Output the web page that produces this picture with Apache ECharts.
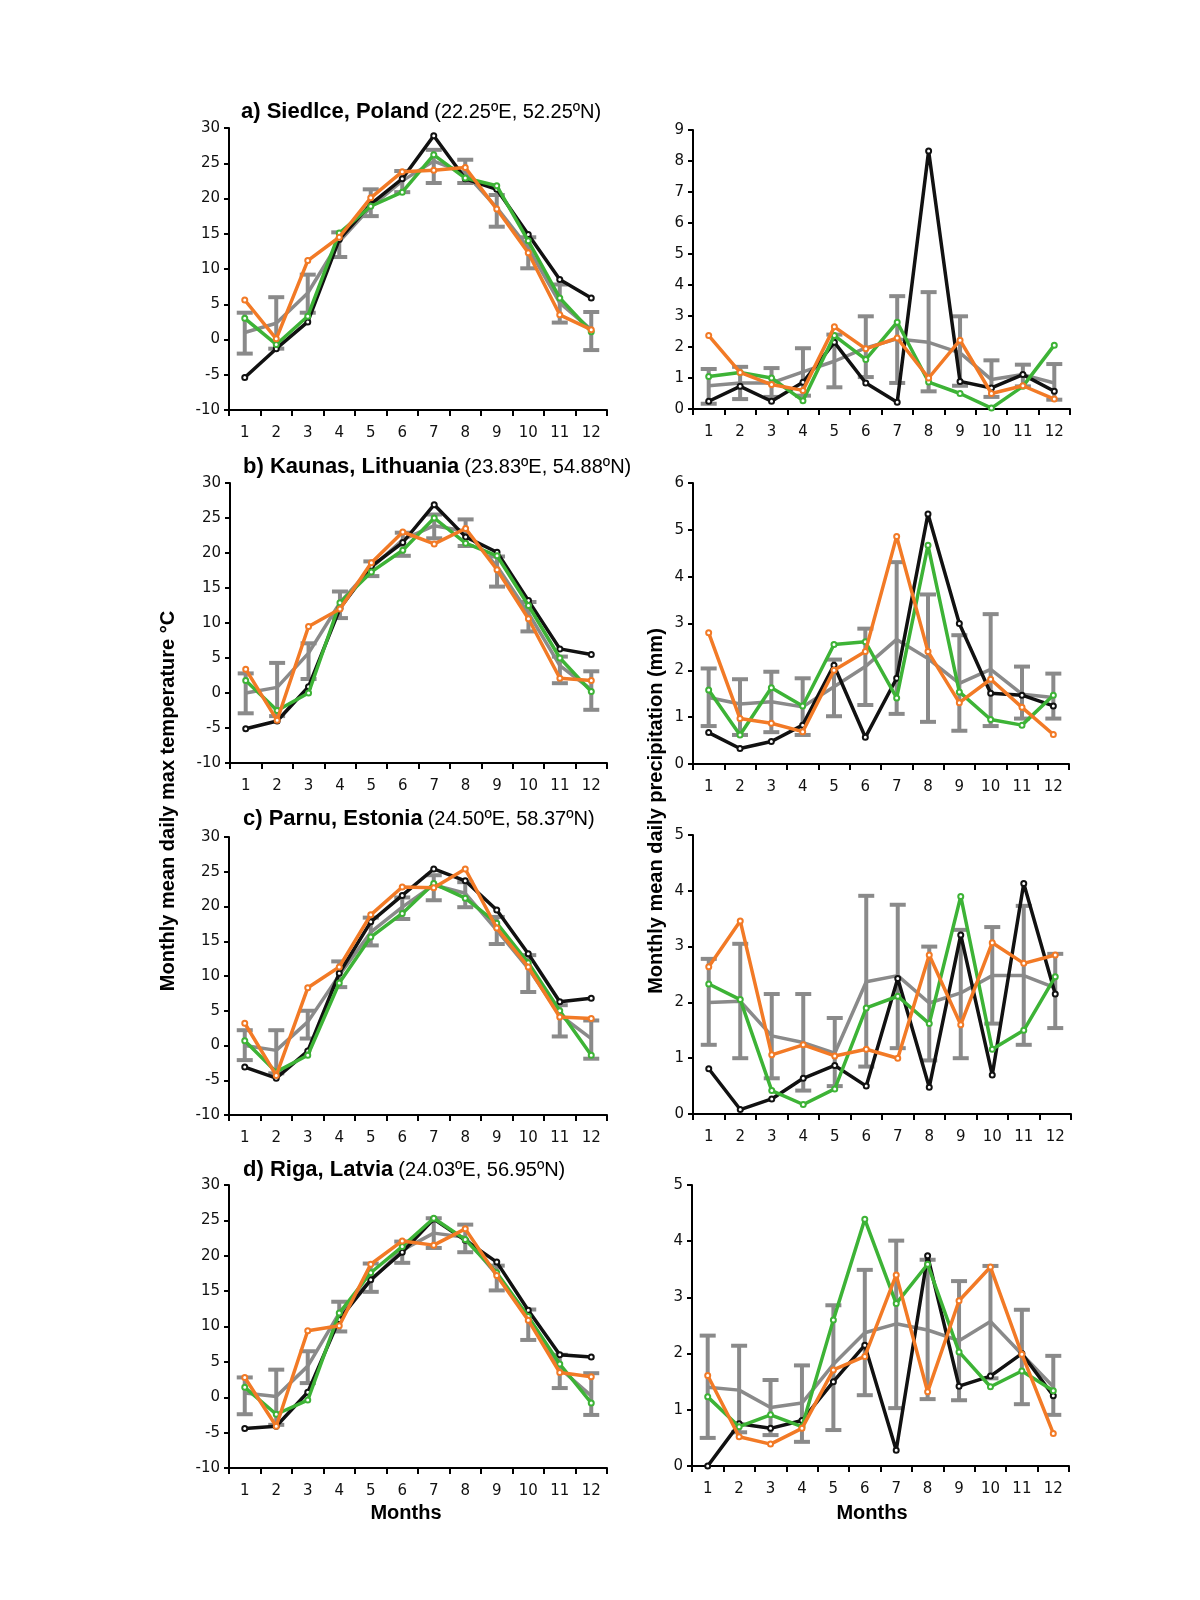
<!DOCTYPE html>
<html>
<head>
<meta charset="utf-8">
<script src="https://cdn.jsdelivr.net/npm/echarts@6/dist/echarts.min.js"></script>
<style>
  html, body { margin: 0; padding: 0; background: #fff; }
  #chart { width: 1200px; height: 1600px; }
</style>
</head>
<body>
<div id="chart"></div>
<script>
  const months = ['1', '2', '3', '4', '5', '6', '7', '8', '9', '10', '11', '12'];

  // a) Siedlce, Poland
  const siedlceTmaxBlack  = [-5.4, -1.3, 2.5, 14.2, 19.2, 22.8, 28.9, 22.8, 21.3, 14.9, 8.5, 5.9];
  const siedlceTmaxGreen  = [3.0, -0.7, 3.3, 15.1, 18.9, 20.9, 26.2, 22.9, 21.8, 14.0, 5.9, 1.1];
  const siedlceTmaxOrange = [5.6, 0.1, 11.2, 14.5, 20.1, 23.8, 24.0, 24.4, 18.5, 12.3, 3.5, 1.4];
  const siedlceTmaxGrey   = [1.0, 2.3, 6.6, 13.9, 18.8, 22.5, 25.3, 23.6, 18.7, 13.0, 5.2, 1.4];
  const siedlceTmaxLo     = [-2.0, -1.3, 3.8, 11.7, 17.5, 20.9, 22.2, 22.2, 16.0, 10.1, 2.4, -1.5];
  const siedlceTmaxHi     = [3.8, 6.0, 9.2, 15.2, 21.3, 23.9, 26.9, 25.5, 20.5, 14.5, 7.8, 3.9];
  const siedlcePrecBlack  = [0.25, 0.73, 0.25, 0.86, 2.15, 0.84, 0.22, 8.32, 0.89, 0.68, 1.11, 0.57];
  const siedlcePrecGreen  = [1.05, 1.18, 1.0, 0.27, 2.37, 1.6, 2.8, 0.87, 0.5, 0.03, 0.73, 2.06];
  const siedlcePrecOrange = [2.37, 1.18, 0.79, 0.6, 2.65, 1.94, 2.29, 1.0, 2.22, 0.5, 0.75, 0.32];
  const siedlcePrecGrey   = [0.75, 0.84, 0.84, 1.2, 1.54, 1.97, 2.26, 2.15, 1.81, 0.95, 1.11, 0.84];
  const siedlcePrecLo     = [0.17, 0.32, 0.39, 0.43, 0.7, 1.03, 0.84, 0.57, 0.75, 0.39, 0.73, 0.3];
  const siedlcePrecHi     = [1.29, 1.36, 1.32, 1.96, 2.4, 2.99, 3.64, 3.77, 2.99, 1.57, 1.43, 1.45];

  // b) Kaunas, Lithuania
  const kaunasTmaxBlack  = [-5.1, -4.0, 0.9, 12.1, 18.1, 21.5, 26.9, 22.3, 20.1, 13.2, 6.3, 5.5];
  const kaunasTmaxGreen  = [1.8, -2.5, 0.0, 12.9, 17.3, 20.4, 25.0, 21.4, 19.6, 12.5, 5.0, 0.2];
  const kaunasTmaxOrange = [3.4, -3.9, 9.5, 12.0, 18.6, 23.0, 21.3, 23.5, 17.6, 10.6, 2.1, 1.8];
  const kaunasTmaxGrey   = [0.0, 0.8, 5.7, 12.9, 17.9, 21.9, 23.9, 23.1, 18.1, 11.4, 3.9, 0.5];
  const kaunasTmaxLo     = [-2.9, -3.3, 2.0, 10.7, 16.7, 19.6, 22.1, 21.0, 15.2, 8.8, 1.4, -2.4];
  const kaunasTmaxHi     = [2.8, 4.3, 7.1, 14.5, 18.8, 22.9, 25.5, 24.8, 19.5, 13.0, 5.2, 3.1];
  const kaunasPrecBlack  = [0.67, 0.33, 0.48, 0.83, 2.11, 0.57, 1.83, 5.34, 3.0, 1.51, 1.47, 1.24];
  const kaunasPrecGreen  = [1.58, 0.62, 1.63, 1.24, 2.55, 2.61, 1.41, 4.67, 1.54, 0.95, 0.83, 1.47];
  const kaunasPrecOrange = [2.8, 0.97, 0.87, 0.69, 2.0, 2.4, 4.86, 2.4, 1.31, 1.81, 1.21, 0.63];
  const kaunasPrecGrey   = [1.42, 1.28, 1.33, 1.22, 1.65, 2.08, 2.66, 2.25, 1.72, 2.02, 1.49, 1.42];
  const kaunasPrecLo     = [0.81, 0.62, 0.68, 0.62, 1.02, 1.26, 1.07, 0.9, 0.71, 0.81, 0.97, 0.97];
  const kaunasPrecHi     = [2.04, 1.81, 1.97, 1.83, 2.23, 2.89, 4.31, 3.62, 2.75, 3.2, 2.08, 1.93];

  // c) Parnu, Estonia
  const parnuTmaxBlack  = [-3.1, -4.7, -0.8, 10.4, 17.8, 21.6, 25.4, 23.7, 19.5, 13.2, 6.3, 6.8];
  const parnuTmaxGreen  = [0.7, -3.8, -1.4, 9.0, 15.6, 19.0, 23.3, 21.2, 17.6, 11.9, 5.0, -1.4];
  const parnuTmaxOrange = [3.2, -4.3, 8.3, 11.3, 18.8, 22.8, 22.7, 25.4, 16.9, 11.3, 4.1, 3.9];
  const parnuTmaxGrey   = [0.0, -0.7, 3.4, 10.1, 16.3, 19.9, 23.1, 21.9, 16.6, 11.1, 4.4, 1.0];
  const parnuTmaxLo     = [-2.1, -4.0, 1.0, 8.4, 14.4, 18.2, 20.9, 19.9, 14.6, 7.7, 1.3, -1.9];
  const parnuTmaxHi     = [2.2, 2.2, 5.0, 12.1, 18.4, 21.3, 24.5, 23.5, 18.5, 13.0, 5.8, 3.6];
  const parnuPrecBlack  = [0.81, 0.08, 0.27, 0.64, 0.87, 0.5, 2.43, 0.48, 3.21, 0.7, 4.13, 2.15];
  const parnuPrecGreen  = [2.33, 2.05, 0.42, 0.17, 0.45, 1.9, 2.11, 1.62, 3.9, 1.16, 1.5, 2.46];
  const parnuPrecOrange = [2.64, 3.46, 1.06, 1.24, 1.04, 1.16, 1.0, 2.85, 1.6, 3.07, 2.7, 2.85];
  const parnuPrecGrey   = [2.0, 2.02, 1.4, 1.28, 1.09, 2.37, 2.48, 1.99, 2.17, 2.48, 2.48, 2.26];
  const parnuPrecLo     = [1.24, 1.0, 0.64, 0.42, 0.5, 0.85, 1.18, 0.96, 1.0, 1.62, 1.24, 1.54];
  const parnuPrecHi     = [2.78, 3.05, 2.15, 2.15, 1.72, 3.91, 3.75, 3.0, 3.3, 3.35, 3.73, 2.87];

  // d) Riga, Latvia
  const rigaTmaxBlack  = [-4.4, -4.1, 0.7, 11.0, 16.6, 20.5, 25.2, 22.2, 19.1, 12.3, 6.0, 5.7];
  const rigaTmaxGreen  = [1.4, -2.4, -0.4, 11.9, 17.6, 21.3, 25.3, 22.3, 17.6, 11.4, 4.7, -0.8];
  const rigaTmaxOrange = [2.8, -4.1, 9.4, 10.1, 18.8, 22.1, 21.5, 23.8, 17.2, 10.9, 3.5, 2.9];
  const rigaTmaxGrey   = [0.6, 0.1, 4.4, 11.9, 16.5, 20.8, 23.2, 22.6, 17.3, 11.2, 4.1, 0.2];
  const rigaTmaxLo     = [-2.4, -3.9, 2.0, 9.3, 14.9, 19.0, 21.1, 20.5, 15.1, 8.1, 1.3, -2.5];
  const rigaTmaxHi     = [2.8, 3.9, 6.5, 13.5, 18.9, 22.0, 25.3, 24.4, 18.6, 12.4, 6.0, 3.4];
  const rigaPrecBlack  = [0.0, 0.75, 0.67, 0.81, 1.5, 2.15, 0.28, 3.74, 1.42, 1.6, 2.0, 1.25];
  const rigaPrecGreen  = [1.23, 0.7, 0.91, 0.7, 2.6, 4.39, 2.89, 3.59, 2.03, 1.41, 1.69, 1.34];
  const rigaPrecOrange = [1.61, 0.52, 0.39, 0.67, 1.71, 1.95, 3.4, 1.32, 2.94, 3.54, 1.99, 0.58];
  const rigaPrecGrey   = [1.4, 1.35, 1.04, 1.12, 1.81, 2.37, 2.53, 2.42, 2.23, 2.57, 1.99, 1.41];
  const rigaPrecLo     = [0.5, 0.6, 0.55, 0.43, 0.64, 1.26, 1.03, 1.19, 1.17, 1.56, 1.1, 0.91];
  const rigaPrecHi     = [2.32, 2.14, 1.53, 1.79, 2.86, 3.49, 4.01, 3.67, 3.29, 3.56, 2.78, 1.96];

  const COL_BLACK = '#111111';
  const COL_GREY = '#8a8a8a';
  const COL_GREEN = '#3db336';
  const COL_ORANGE = '#f27a26';

  const tickFont = 'DejaVu Sans';
  const textFont = 'Liberation Sans, Arial, sans-serif';

  // one entry per panel: grid box + y range + data
  const panels = [
    { box: [229, 128, 378, 282], min: -10, max: 30, step: 5,
      d: [siedlceTmaxBlack, siedlceTmaxGreen, siedlceTmaxOrange, siedlceTmaxGrey, siedlceTmaxLo, siedlceTmaxHi] },
    { box: [693, 130, 377, 279], min: 0, max: 9, step: 1,
      d: [siedlcePrecBlack, siedlcePrecGreen, siedlcePrecOrange, siedlcePrecGrey, siedlcePrecLo, siedlcePrecHi] },
    { box: [230, 483, 377, 280], min: -10, max: 30, step: 5,
      d: [kaunasTmaxBlack, kaunasTmaxGreen, kaunasTmaxOrange, kaunasTmaxGrey, kaunasTmaxLo, kaunasTmaxHi] },
    { box: [693, 483, 376, 281], min: 0, max: 6, step: 1,
      d: [kaunasPrecBlack, kaunasPrecGreen, kaunasPrecOrange, kaunasPrecGrey, kaunasPrecLo, kaunasPrecHi] },
    { box: [229, 837, 378, 278], min: -10, max: 30, step: 5,
      d: [parnuTmaxBlack, parnuTmaxGreen, parnuTmaxOrange, parnuTmaxGrey, parnuTmaxLo, parnuTmaxHi] },
    { box: [693, 835, 378, 279], min: 0, max: 5, step: 1,
      d: [parnuPrecBlack, parnuPrecGreen, parnuPrecOrange, parnuPrecGrey, parnuPrecLo, parnuPrecHi] },
    { box: [229, 1185, 378, 283], min: -10, max: 30, step: 5,
      d: [rigaTmaxBlack, rigaTmaxGreen, rigaTmaxOrange, rigaTmaxGrey, rigaTmaxLo, rigaTmaxHi] },
    { box: [692, 1185, 377, 281], min: 0, max: 5, step: 1,
      d: [rigaPrecBlack, rigaPrecGreen, rigaPrecOrange, rigaPrecGrey, rigaPrecLo, rigaPrecHi] }
  ];

  const titles = [
    { name: 'a) Siedlce, Poland', coord: '(22.25ºE, 52.25ºN)', left: 236, top: 96 },
    { name: 'b) Kaunas, Lithuania', coord: '(23.83ºE, 54.88ºN)', left: 238, top: 451 },
    { name: 'c) Parnu, Estonia', coord: '(24.50ºE, 58.37ºN)', left: 238, top: 803 },
    { name: 'd) Riga, Latvia', coord: '(24.03ºE, 56.95ºN)', left: 238, top: 1154 }
  ];

  function errorBarItem(params, api) {
    const x = api.value(0);
    const lo = api.coord([x, api.value(1)]);
    const hi = api.coord([x, api.value(2)]);
    const half = 8;
    const style = { stroke: COL_GREY, lineWidth: 4, fill: null };
    return {
      type: 'group',
      children: [
        { type: 'line', shape: { x1: lo[0], y1: lo[1], x2: hi[0], y2: hi[1] }, style: style },
        { type: 'line', shape: { x1: lo[0] - half, y1: lo[1], x2: lo[0] + half, y2: lo[1] }, style: style },
        { type: 'line', shape: { x1: hi[0] - half, y1: hi[1], x2: hi[0] + half, y2: hi[1] }, style: style }
      ]
    };
  }

  function lineSeries(i, data, color, withSymbol, z) {
    return {
      type: 'line',
      xAxisIndex: i,
      yAxisIndex: i,
      data: data,
      z: z,
      symbol: withSymbol ? 'emptyCircle' : 'none',
      symbolSize: 5,
      lineStyle: { color: color, width: 3.5 },
      itemStyle: { color: color, borderWidth: 1.5 },
      animation: false
    };
  }

  const grids = [], xAxes = [], yAxes = [], series = [];
  panels.forEach(function (p, i) {
    grids.push({ left: p.box[0], top: p.box[1], width: p.box[2], height: p.box[3] });
    xAxes.push({
      type: 'category', gridIndex: i, data: months, boundaryGap: true,
      axisLine: { onZero: false, lineStyle: { color: '#000', width: 2 } },
      axisTick: { show: true, interval: 0, length: 6, lineStyle: { color: '#000', width: 2 } },
      axisLabel: { interval: 0, margin: 16, color: '#111', fontSize: 15, fontFamily: tickFont }
    });
    yAxes.push({
      type: 'value', gridIndex: i, min: p.min, max: p.max, interval: p.step,
      axisLine: { show: true, lineStyle: { color: '#000', width: 2 } },
      axisTick: { show: true, length: 5, lineStyle: { color: '#000', width: 2 } },
      axisLabel: { margin: 9, color: '#111', fontSize: 15, fontFamily: tickFont },
      splitLine: { show: false }
    });
    series.push({
      type: 'custom', xAxisIndex: i, yAxisIndex: i, z: 2,
      renderItem: errorBarItem,
      encode: { x: 0, y: [1, 2] },
      data: months.map(function (m, k) { return [k, p.d[4][k], p.d[5][k]]; }),
      animation: false
    });
    series.push(lineSeries(i, p.d[3], COL_GREY, false, 3));
    series.push(lineSeries(i, p.d[0], COL_BLACK, true, 4));
    series.push(lineSeries(i, p.d[1], COL_GREEN, true, 5));
    series.push(lineSeries(i, p.d[2], COL_ORANGE, true, 6));
  });

  const chart = echarts.init(document.getElementById('chart'), null, { renderer: 'canvas' });
  chart.setOption({
    backgroundColor: '#fff',
    animation: false,
    title: titles.map(function (t) {
      return {
        left: t.left, top: t.top,
        text: '{b|' + t.name + '} {n|' + t.coord + '}',
        textStyle: {
          rich: {
            b: { fontFamily: textFont, fontWeight: 'bold', fontSize: 22, color: '#000' },
            n: { fontFamily: textFont, fontWeight: 'normal', fontSize: 20, color: '#000' }
          }
        }
      };
    }),
    grid: grids,
    xAxis: xAxes,
    yAxis: yAxes,
    series: series,
    graphic: [
      { type: 'text', x: 168, y: 801, rotation: Math.PI / 2,
        style: { text: 'Monthly mean daily max temperature °C', fontFamily: textFont, fontWeight: 'bold',
                 fontSize: 20, fill: '#000', align: 'center', verticalAlign: 'middle' } },
      { type: 'text', x: 656, y: 811, rotation: Math.PI / 2,
        style: { text: 'Monthly mean daily precipitation (mm)', fontFamily: textFont, fontWeight: 'bold',
                 fontSize: 20, fill: '#000', align: 'center', verticalAlign: 'middle' } },
      { type: 'text', x: 406, y: 1513,
        style: { text: 'Months', fontFamily: textFont, fontWeight: 'bold', fontSize: 20, fill: '#000',
                 align: 'center', verticalAlign: 'middle' } },
      { type: 'text', x: 872, y: 1513,
        style: { text: 'Months', fontFamily: textFont, fontWeight: 'bold', fontSize: 20, fill: '#000',
                 align: 'center', verticalAlign: 'middle' } }
    ]
  });
</script>
</body>
</html>
